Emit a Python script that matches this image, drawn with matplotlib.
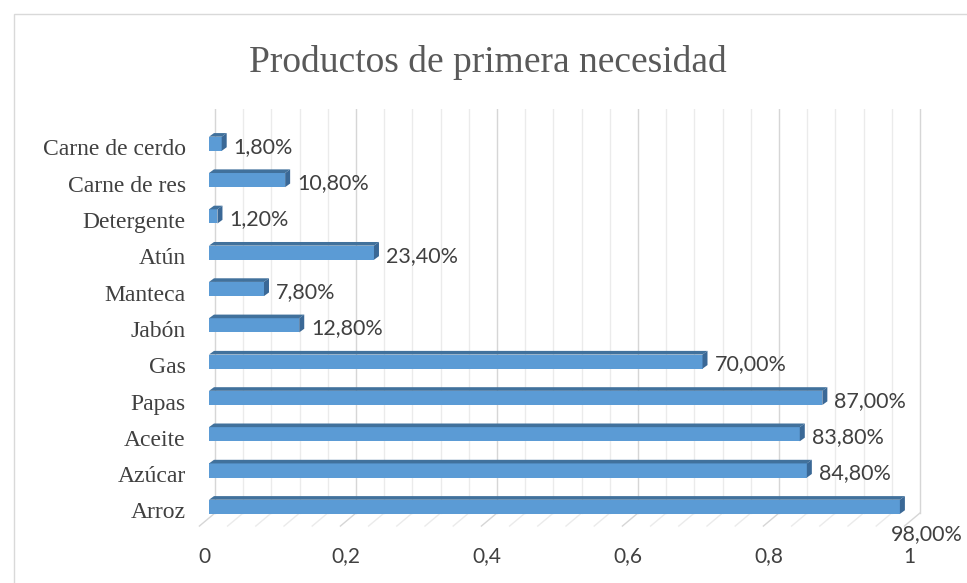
"""Barras horizontales estilo Excel 3D: productos de primera necesidad."""

import matplotlib

matplotlib.use("Agg")
import matplotlib.pyplot as plt
from matplotlib.patches import Polygon, Rectangle

productos = ["Arroz", "Azúcar", "Aceite", "Papas", "Gas", "Jabón",
             "Manteca", "Atún", "Detergente", "Carne de res", "Carne de cerdo"]
porcentajes = [0.98, 0.848, 0.838, 0.87, 0.70, 0.128, 0.078, 0.234, 0.012, 0.108, 0.018]
ticks = [0, 0.2, 0.4, 0.6, 0.8, 1]
tick_labels = ["0", "0,2", "0,4", "0,6", "0,8", "1"]

FRONT = "#5B9BD5"
TOP = "#41719C"
SIDE = "#3A6896"
TEXT = "#404040"
SERIF = "Liberation Serif"
SANS = "Lato"

W, H = 967, 583
fig = plt.figure(figsize=(W / 100, H / 100), dpi=100)

# border of the chart area
fig.patches.append(Rectangle((14 / W, -0.01), 1.0, 1 - 14 / H + 0.01, transform=fig.transFigure,
                             fill=False, edgecolor="#D9D9D9", linewidth=1))

# axes: x=0 at px 209, x=1 at px 914; y index 0 at px 505, step 36.3 px
xmin, xmax = -19 / 705, 1 + 21 / 705
ymin, ymax = -1.0, 10.9
ax = fig.add_axes([190 / W, (H - 541.3) / H, 745 / W, (541.3 - 109.3) / H])
ax.set_xlim(xmin, xmax)
ax.set_ylim(ymin, ymax)
ax.axis("off")

# back wall gridlines and floor diagonals
dxw, wall_bot, floor_front = 6 / 705, -0.22, -0.58
for i in range(26):
    v = i * 0.04
    col = "#D6D6D6" if i % 5 == 0 else "#EBEBEB"
    ax.plot([v + dxw, v + dxw], [wall_bot, ymax], color=col, lw=1, zorder=1)
    ax.plot([v + dxw, v - 1.6 * dxw], [wall_bot, floor_front], color=col, lw=1, zorder=1)

# bars with 3D top and side faces
h = 0.39
ddx, ddy = 5 / 705, 0.1
for i, v in enumerate(porcentajes):
    y0, y1 = i - h / 2 - 0.05, i + h / 2 - 0.05
    ax.add_patch(Rectangle((0, y0), v, h, facecolor=FRONT, edgecolor="none", zorder=3))
    ax.add_patch(Polygon([(0, y1), (ddx, y1 + ddy), (v + ddx, y1 + ddy), (v, y1)],
                         facecolor=TOP, edgecolor="none", zorder=3))
    ax.add_patch(Polygon([(v, y0), (v, y1), (v + ddx, y1 + ddy), (v + ddx, y0 + ddy)],
                         facecolor=SIDE, edgecolor="none", zorder=3))
    lbl = f"{v * 100:.2f}%".replace(".", ",")
    if v == max(porcentajes):
        ax.text(1.018, -0.8, lbl, ha="center", va="center", fontsize=15.5,
                color=TEXT, family=SANS)
    else:
        ax.text(v + 0.017, i - 0.13, lbl, ha="left", va="center", fontsize=15.5,
                color=TEXT, family=SANS)
    ax.text(-0.033, i - 0.22, productos[i], ha="right", va="center", fontsize=17,
            color=TEXT, family=SERIF)

for t, s in zip(ticks, tick_labels):
    ax.text(t - 0.006, -1.42, s, ha="center", va="center", fontsize=15,
            color=TEXT, family=SANS)

fig.text(488 / W, 1 - 62 / H, "Productos de primera necesidad", ha="center", va="center",
         fontsize=27, color="#595959", family=SERIF)

fig.savefig("out.png", dpi=100)
